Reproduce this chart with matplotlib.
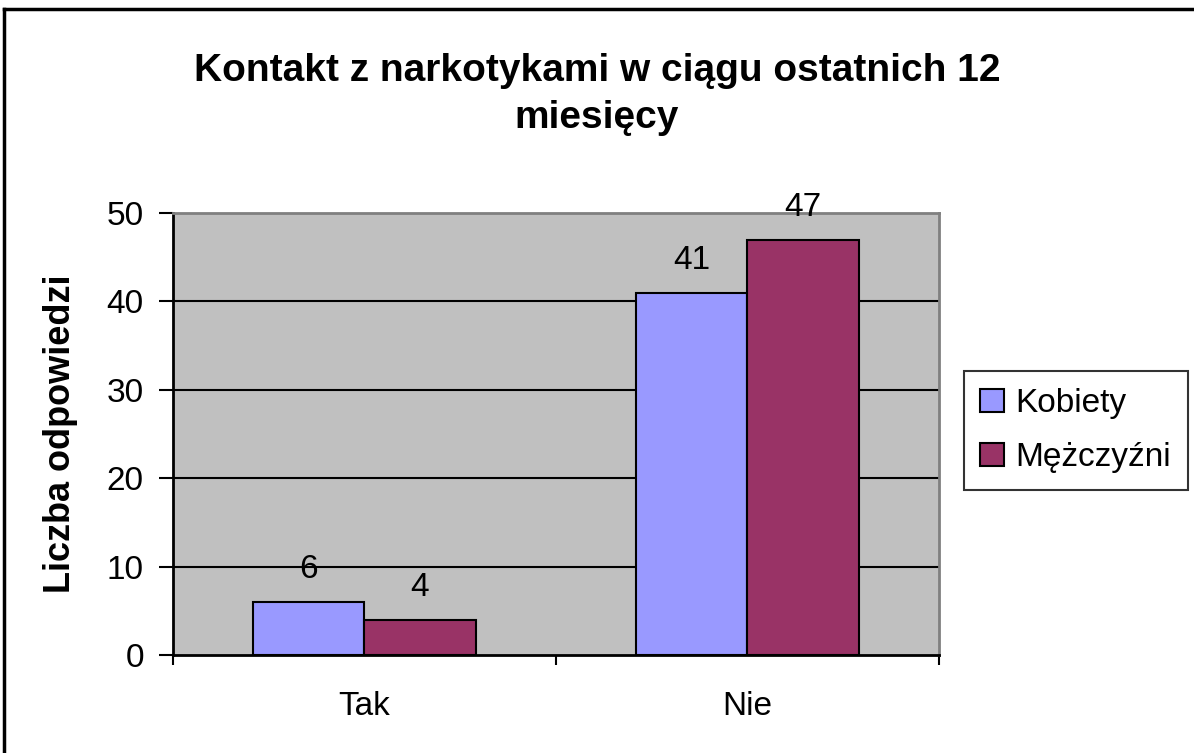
import matplotlib.pyplot as plt
import numpy as np
from matplotlib.lines import Line2D

plt.rcParams['font.family'] = ['Liberation Sans', 'DejaVu Sans']

# dane
categories = ["Tak", "Nie"]
kobiety = [6, 41]
mezczyzni = [4, 47]
series_names = ["Kobiety", "Mężczyźni"]
y_ticks = [0, 10, 20, 30, 40, 50]

fig = plt.figure(figsize=(11.94, 7.53), dpi=100)
ax = fig.add_axes([0.1449, 0.1301, 0.6415, 0.587])
ax.set_facecolor("#C0C0C0")

x = np.arange(len(categories))
w = 0.29
b1 = ax.bar(x - w / 2, kobiety, w, color="#9999FF", edgecolor="black", linewidth=1.5, label=series_names[0], zorder=3)
b2 = ax.bar(x + w / 2, mezczyzni, w, color="#993366", edgecolor="black", linewidth=1.5, label=series_names[1], zorder=3)

# etykiety wartości nad słupkami
for bars, vals in [(b1, kobiety), (b2, mezczyzni)]:
    for rect, v in zip(bars, vals):
        ax.annotate(str(v), (rect.get_x() + rect.get_width() / 2, v), xytext=(0, 12),
                    textcoords="offset points", ha="center", va="bottom", fontsize=24)

ax.set_xlim(-0.5, 1.5)
ax.set_ylim(0, 50)
ax.set_yticks(y_ticks)
ax.tick_params(axis="y", labelsize=24, length=10, width=1.5, direction="out", pad=11)
ax.set_xticks([-0.5, 0.5, 1.5])
ax.set_xticklabels([])
ax.tick_params(axis="x", which="major", length=7, width=1.5, direction="out")
ax.set_xticks(x, minor=True)
ax.set_xticklabels(categories, minor=True, fontsize=24)
ax.tick_params(axis="x", which="minor", length=0, pad=26)

for yv in y_ticks[1:-1]:
    ax.axhline(yv, color="black", linewidth=1.5, zorder=1)

ax.spines["left"].set_linewidth(2)
ax.spines["bottom"].set_linewidth(2)
ax.spines["top"].set_color("#808080")
ax.spines["right"].set_color("#808080")
ax.spines["top"].set_linewidth(2)
ax.spines["right"].set_linewidth(2)

ax.set_ylabel("Liczba odpowiedzi", fontsize=26, fontweight="bold", labelpad=21)

fig.text(0.5, 0.929, "Kontakt z narkotykami w ciągu ostatnich 12\nmiesięcy", ha="center", va="top",
         fontsize=28, fontweight="bold", linespacing=1.38)

leg = fig.legend(loc="center left", bbox_to_anchor=(0.807, 0.428), fontsize=24, frameon=True,
                 fancybox=False, edgecolor="black", handlelength=0.7, handleheight=0.7,
                 handletextpad=0.35, borderpad=0.5, labelspacing=0.7, borderaxespad=0)
leg.get_frame().set_linewidth(1.5)

# ramka wykresu (widoczne tylko lewa i górna krawędź)
fig.add_artist(Line2D([0.003, 0.003], [0.0, 0.988], transform=fig.transFigure, color="black", linewidth=2.5))
fig.add_artist(Line2D([0.003, 1.0], [0.988, 0.988], transform=fig.transFigure, color="black", linewidth=2.5))

plt.savefig("out.png", dpi=100)
